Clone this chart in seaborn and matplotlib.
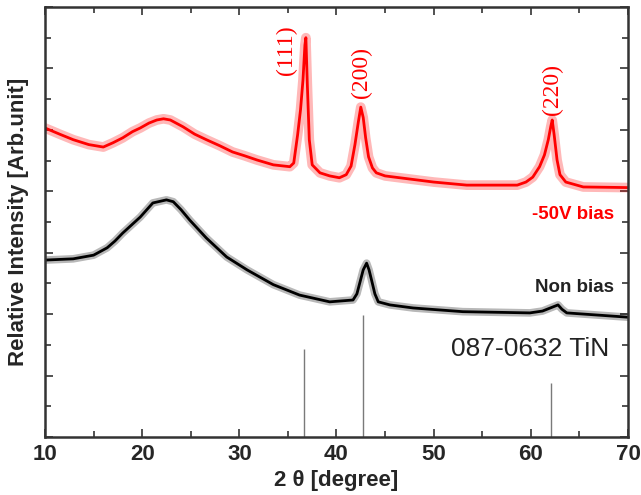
import numpy as np
import pandas as pd
import matplotlib
matplotlib.use("Agg")
import matplotlib.pyplot as plt
from matplotlib.ticker import MultipleLocator, NullFormatter
import seaborn as sns

# -50V bias pattern (red)
bias_x = [10, 11.5, 12.9, 14.5, 16.0, 17.0, 18.0, 19.0, 19.8, 20.7, 21.5, 22.2, 22.9, 24.2,
          25.4, 26.6, 28.0, 29.3, 30.5, 31.8, 33.5, 35.2, 35.6, 36.0, 36.3, 36.55, 36.75,
          36.85, 37.0, 37.2, 37.5, 38.3, 39.3, 40.3, 41.0, 41.5, 41.9, 42.25, 42.5, 42.75,
          43.0, 43.3, 43.7, 44.1, 45.0, 46.5, 50.0, 53.4, 58.6, 59.5, 60.2, 60.9, 61.4,
          61.8, 62.05, 62.2, 62.4, 62.7, 63.0, 63.6, 65.4, 70.0]
bias_y = [5.03, 4.93, 4.84, 4.76, 4.72, 4.79, 4.87, 4.97, 5.03, 5.11, 5.16, 5.18, 5.16, 5.05,
          4.93, 4.84, 4.74, 4.64, 4.58, 4.51, 4.43, 4.40, 4.46, 4.92, 5.33, 5.81, 6.38,
          6.50, 5.73, 4.84, 4.43, 4.30, 4.25, 4.22, 4.27, 4.41, 4.76, 5.13, 5.37, 5.20,
          4.87, 4.56, 4.38, 4.30, 4.25, 4.22, 4.15, 4.10, 4.10, 4.15, 4.23, 4.40, 4.59,
          4.84, 5.05, 5.16, 4.92, 4.51, 4.27, 4.15, 4.07, 4.06]

# Non bias pattern (black)
non_x = [10, 12.9, 15.0, 16.4, 17.2, 18.0, 19.8, 21.1, 22.5, 23.2, 24.0, 24.9, 26.6, 28.7,
         30.8, 33.5, 36.2, 39.3, 41.7, 42.1, 42.4, 42.75, 43.1, 43.35, 43.6, 43.95, 44.3,
         45.5, 47.9, 53.0, 59.9, 61.2, 62.0, 62.8, 63.2, 63.7, 70.0]
non_y = [2.88, 2.90, 2.96, 3.08, 3.19, 3.32, 3.58, 3.81, 3.86, 3.83, 3.70, 3.53, 3.24, 2.93,
         2.72, 2.48, 2.31, 2.20, 2.23, 2.33, 2.51, 2.72, 2.83, 2.72, 2.56, 2.33, 2.20,
         2.15, 2.10, 2.04, 2.02, 2.05, 2.10, 2.15, 2.08, 2.02, 1.95]

# JCPDS 087-0632 TiN reference lines
ref_x = [36.65, 42.7, 62.1]
ref_h = [1.43, 1.99, 0.88]

peak_labels = ["(111)", "(200)", "(220)"]
peak_lx = [34.86, 42.58, 62.2]
peak_ly = [6.30, 5.94, 5.65]

x_ticks = [10, 20, 30, 40, 50, 60, 70]

df_bias = pd.DataFrame({"x": bias_x, "y": bias_y})
df_non = pd.DataFrame({"x": non_x, "y": non_y})

sns.set_style("ticks")
plt.rcParams["font.family"] = ["Liberation Sans", "DejaVu Sans"]

fig = plt.figure(figsize=(6.41, 4.95), dpi=100)
ax = fig.add_axes([0.0702, 0.1172, 0.9095, 0.8687])

# wide faint band + solid core to imitate the noisy scan
for d, c, bw in [(df_bias, "#ff0000", 7), (df_non, "black", 5.5)]:
    sns.lineplot(data=d, x="x", y="y", ax=ax, color=c, lw=bw, alpha=0.28,
                 estimator=None, sort=False)
    sns.lineplot(data=d, x="x", y="y", ax=ax, color=c, lw=2.0,
                 estimator=None, sort=False)

ax.vlines(ref_x, 0, ref_h, color="#7a7a7a", lw=1.0)

for lab, lx, ly in zip(peak_labels, peak_lx, peak_ly):
    ax.text(lx, ly, lab, rotation=90, ha="center", va="center", color="#ff0000",
            fontsize=17, family=["Liberation Serif", "DejaVu Serif"])

ax.text(68.6, 3.62, "-50V bias", color="#ff0000", fontsize=13.5, fontweight="bold",
        ha="right", va="center")
ax.text(68.6, 2.44, "Non bias", color="#222222", fontsize=13.5, fontweight="bold",
        ha="right", va="center")
ax.text(68.1, 1.43, "087-0632 TiN", color="#222222", fontsize=19,
        ha="right", va="center")

ax.set_xlim(10, 70)
ax.set_ylim(0, 7)
ax.set_xticks(x_ticks)
ax.xaxis.set_minor_locator(MultipleLocator(5))
ax.yaxis.set_major_locator(MultipleLocator(1))
ax.yaxis.set_minor_locator(MultipleLocator(0.5))
ax.yaxis.set_major_formatter(NullFormatter())
ax.tick_params(which="both", direction="in", top=True, right=True, width=1.2,
               color="#333333")
ax.tick_params(which="major", length=6)
ax.tick_params(which="minor", length=4)
ax.tick_params(axis="x", labelsize=16, pad=5)
for t in ax.get_xticklabels():
    t.set_fontweight("bold")

for s in ax.spines.values():
    s.set_linewidth(1.8)
    s.set_color("#333333")
    s.set_visible(True)

ax.set_xlabel("2 θ [degree]", fontsize=16, fontweight="bold", labelpad=4)
ax.set_ylabel("Relative Intensity [Arb.unit]", fontsize=16, fontweight="bold",
              labelpad=8)

fig.savefig("out.png", dpi=100)
